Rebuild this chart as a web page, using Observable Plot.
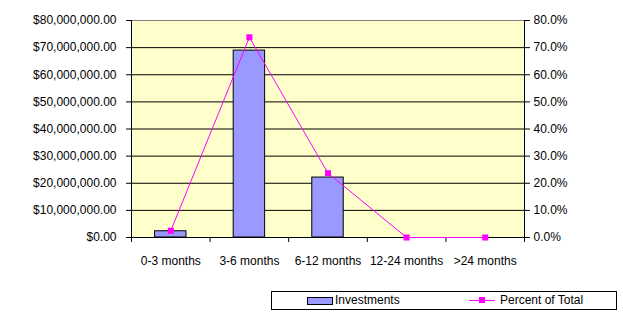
<!DOCTYPE html>
<html>
<head>
<meta charset="utf-8">
<script src="https://cdn.jsdelivr.net/npm/d3@7"></script>
<script src="https://cdn.jsdelivr.net/npm/@observablehq/plot@0.6"></script>
<style>
  html, body { margin: 0; padding: 0; background: #ffffff; }
  #wrap { position: relative; width: 623px; height: 319px; overflow: hidden; font-family: "Liberation Sans", Arial, sans-serif; }
  #legend { position: absolute; left: 271px; top: 291px; width: 344px; height: 17px; border: 1px solid #000; background: #fff; font-size: 12px; color: #000; }
  #legend .sw { position: absolute; left: 35px; top: 5px; width: 24px; height: 6px; background: #9999ff; border: 1px solid #000; }
  #legend .t1 { position: absolute; left: 63px; top: 1px; line-height: 15px; }
  #legend .ln { position: absolute; left: 197px; top: 8px; width: 26px; height: 1px; background: #ff00ff; }
  #legend .mk { position: absolute; left: 207px; top: 5px; width: 6px; height: 6px; background: #ff00ff; }
  #legend .t2 { position: absolute; left: 228px; top: 1px; line-height: 15px; }
</style>
</head>
<body>
<div id="wrap"></div>
<script>
const categories = ["0-3 months", "3-6 months", "6-12 months", "12-24 months", ">24 months"];
const investments = [2300000, 68900000, 22100000, 0, 0];
const percentOfTotal = [2.5, 73.8, 23.7, 0, 0];
const dollarTicks = [0, 10000000, 20000000, 30000000, 40000000, 50000000, 60000000, 70000000, 80000000];
const percentTicks = [0, 10, 20, 30, 40, 50, 60, 70, 80];

const yMax = dollarTicks[dollarTicks.length - 1];
const pMax = percentTicks[percentTicks.length - 1];
const ratio = yMax / pMax;

const data = categories.map((c, i) => ({i, c, inv: investments[i], pct: percentOfTotal[i]}));
const bounds = d3.range(categories.length + 1);

const chart = Plot.plot({
  width: 623,
  height: 319,
  marginTop: 20,
  marginBottom: 82,
  marginLeft: 131,
  marginRight: 99,
  style: {fontFamily: "'Liberation Sans', Arial, sans-serif", fontSize: "12px", background: "#ffffff", color: "#000", overflow: "visible"},
  x: {type: "linear", domain: [0, categories.length], axis: null, label: null},
  y: {domain: [0, yMax], axis: null, label: null},
  marks: [
    Plot.frame({fill: "#ffffcc", stroke: "none"}),
    Plot.ruleY(dollarTicks.slice(1, -1), {stroke: "#000", strokeWidth: 1}),
    Plot.ruleY([yMax], {stroke: "#808080", strokeWidth: 1}),
    Plot.rectY(data, {x1: d => d.i + 0.3, x2: d => d.i + 0.7, y1: 0, y2: "inv", fill: "#9999ff", stroke: "#000", strokeWidth: 1}),
    Plot.ruleY([0], {stroke: "#000"}),
    Plot.ruleX([0, categories.length], {stroke: "#000"}),
    Plot.ruleX(bounds, {y1: 0, y2: 0, insetBottom: -5, stroke: "#000"}),
    Plot.axisY(dollarTicks, {anchor: "left", label: null, tickSize: 5, tickPadding: 10, tickFormat: d3.format("$,.2f"), fontSize: 12}),
    Plot.axisY(percentTicks.map(p => p * ratio), {anchor: "right", label: null, tickSize: 5, tickPadding: 4, tickFormat: v => (v / ratio).toFixed(1) + "%", fontSize: 12}),
    Plot.axisX(data.map(d => d.i + 0.5), {anchor: "bottom", label: null, tickSize: 0, tickPadding: 19, tickFormat: v => categories[Math.floor(v)], fontSize: 12}),
    Plot.line(data, {x: d => d.i + 0.5, y: d => d.pct * ratio, stroke: "#ff00ff", strokeWidth: 1}),
    Plot.dot(data, {x: d => d.i + 0.5, y: d => d.pct * ratio, symbol: "square", r: 3.4, fill: "#ff00ff", stroke: "none"})
  ]
});

const wrap = document.getElementById("wrap");
wrap.appendChild(chart);
const legend = document.createElement("div");
legend.id = "legend";
legend.innerHTML = '<div class="sw"></div><span class="t1">Investments</span><div class="ln"></div><div class="mk"></div><span class="t2">Percent of Total</span>';
wrap.appendChild(legend);
</script>
</body>
</html>
